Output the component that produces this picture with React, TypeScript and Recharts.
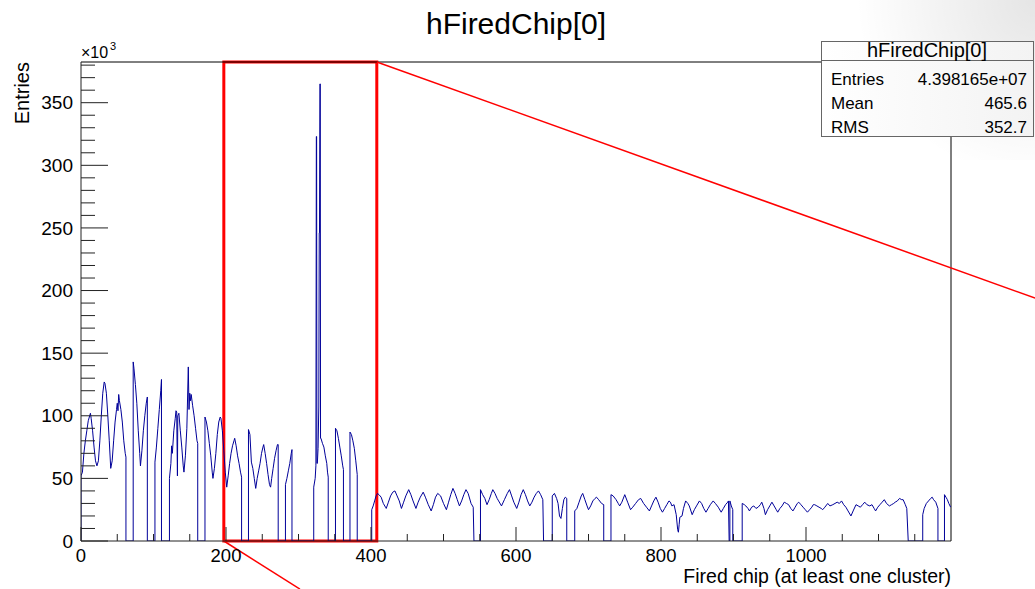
import React from "react";
import { LineChart, Line, XAxis, YAxis, ReferenceLine, ReferenceArea, Label } from "recharts";

// Histogram hFiredChip[0]: chip index (x) vs entries (in units of 10^3)
const HIST_X = [
  0, 0, 2, 4, 6, 8, 10, 12, 13, 14, 16, 18, 20, 22, 24, 26, 28, 30, 32, 33, 35, 37, 39, 41, 43, 45, 47, 49, 50, 51, 52, 53, 55, 57, 59, 61, 62, 62,
  72, 72, 73, 75, 77, 79, 81, 82, 84, 86, 88, 90, 91.5, 91.5,
  102, 102, 104, 106, 108, 110, 111, 111,
  122, 122, 124, 125, 126, 128, 130, 131, 132, 133, 133.5, 135, 137, 139, 141, 142, 144, 146, 148, 149, 150, 151, 152, 154, 156, 158, 160, 161, 161,
  171, 171, 173, 175, 177, 179, 181, 182, 184, 186, 188, 190, 192, 193, 195, 197, 199, 201, 203, 205, 207, 209, 211, 212, 214, 216, 218, 220, 221.5, 221.5,
  231, 231, 233, 235, 237, 239, 241, 243, 245, 247, 249, 251, 252, 254, 256, 258, 260, 261.5, 263, 265, 267, 269, 271, 272, 272,
  282, 282, 284, 286, 288, 290, 291, 291,
  321, 321, 323, 324, 324.6, 325, 325.4, 326, 327, 328, 328.6, 329, 329.6, 330, 330.4, 331, 333, 335, 337, 339, 340, 341, 341,
  351, 351, 353, 355, 357, 359, 361, 362, 362,
  371, 371, 373, 375, 377, 379, 381, 381,
  401, 401, 403, 405, 407, 409, 411, 414, 417, 420, 421, 424, 427, 430, 433, 436, 439, 442, 445, 448, 452, 455, 458, 462, 465, 468, 472, 475, 479, 483, 486, 489, 492, 494, 496, 500, 504, 507, 510, 513, 516, 519, 522, 525, 528, 531, 534, 538, 541, 542,
  551, 551, 554, 557, 560, 563, 566, 568, 571, 574, 576, 580, 584, 588, 591, 594, 597, 601, 604, 607, 610, 613, 616, 619, 622, 625, 628, 631, 634, 637, 638,
  650, 650, 653, 656, 658, 660, 662, 664, 666, 668, 670, 670,
  681, 681, 684, 687, 690, 692, 695, 698, 700, 703, 706, 709, 711, 714, 718, 721, 721,
  731, 731, 734, 738, 741, 743, 746, 750, 754, 758, 761, 765, 769, 772, 776, 780, 784, 787, 790, 793, 796, 799, 802, 805, 808, 811, 813, 815, 818, 821, 823, 824, 825, 826, 829, 831, 834, 837, 839, 843, 846, 849, 853, 856, 859, 862, 865, 868, 872, 875, 879, 883, 886, 889, 892, 893, 894,
  895, 895, 897, 899, 899,
  912, 912, 915, 917, 920, 922, 925, 928, 931, 934, 937, 939, 942, 944, 947, 950, 953, 956, 959, 961, 964, 967, 970, 973, 976, 979, 982, 985, 988, 990, 993, 996, 999, 1002, 1005, 1008, 1010, 1012, 1015, 1018, 1021, 1023, 1026, 1030, 1033, 1037, 1040, 1043, 1046, 1049, 1052, 1055, 1058, 1062, 1065, 1069, 1072, 1075, 1078, 1081, 1084, 1088, 1091, 1094, 1096, 1099, 1102, 1105, 1108, 1111, 1115, 1118, 1121, 1123, 1126, 1129, 1132, 1134, 1137, 1139, 1141,
  1161, 1161, 1163, 1166, 1169, 1172, 1174, 1176, 1179, 1182, 1182,
  1191, 1191, 1193, 1195, 1197, 1199.5,
];

const HIST_Y = [
  0, 52, 55, 70, 80, 88, 96, 100, 102, 98, 88, 75, 64, 60, 64, 80, 100, 118, 127, 126, 118, 100, 80, 58, 64, 80, 95, 105, 110, 104, 117, 112, 105, 95, 80, 70, 67, 0,
  0, 143, 138, 125, 110, 88, 70, 60, 72, 88, 100, 110, 115, 0,
  0, 63, 75, 90, 105, 120, 129, 0,
  0, 50, 62, 76, 70, 88, 98, 104, 103, 52, 100, 102, 88, 75, 60, 55, 68, 90, 139, 105, 118, 112, 117, 108, 100, 90, 80, 78, 0,
  0, 99, 95, 88, 78, 68, 55, 50, 58, 70, 85, 95, 99, 98, 88, 72, 55, 43, 52, 62, 70, 76, 80, 82, 76, 68, 62, 55, 51, 0,
  0, 89, 85, 63, 58, 50, 42, 50, 56, 62, 70, 75, 77, 70, 62, 53, 45, 43, 50, 58, 66, 72, 77, 77, 0,
  0, 45, 50, 56, 62, 70, 73, 0,
  0, 43, 50, 60, 323, 323, 62, 62, 74, 107, 246, 246, 365, 365, 82, 82, 78, 75, 68, 62, 55, 51, 0,
  0, 90, 88, 82, 75, 68, 60, 57, 0,
  0, 87, 85, 80, 74, 64, 53, 0,
  0, 25, 28, 32, 36, 38, 37, 35, 30, 27, 26, 31, 36, 39, 40, 36, 32, 26, 31, 36, 41, 37, 32, 26, 31, 35, 39, 35, 29, 24, 29, 35, 38, 37, 36, 30, 25, 31, 37, 42, 38, 33, 28, 32, 37, 41, 38, 30, 27, 0,
  0, 41, 37, 34, 29, 33, 38, 41, 38, 34, 32, 28, 33, 38, 41, 36, 31, 26, 31, 37, 41, 37, 32, 28, 31, 35, 38, 40, 37, 33, 0,
  0, 36, 38, 34, 30, 20, 18, 26, 33, 35, 34, 0,
  0, 24, 26, 31, 36, 38, 33, 28, 25, 28, 32, 34, 35, 33, 30, 29, 0,
  0, 37, 36, 33, 30, 28, 31, 37, 31, 25, 27, 30, 33, 34, 30, 27, 24, 28, 32, 35, 31, 26, 23, 26, 29, 32, 31, 28, 29, 21, 9, 7, 13, 19, 20, 26, 32, 30, 28, 21, 25, 28, 32, 30, 26, 23, 26, 29, 32, 30, 27, 23, 26, 29, 31, 32, 0,
  0, 32, 28, 25, 0,
  0, 30, 29, 28, 26, 24, 27, 28, 26, 27, 29, 31, 26, 21, 25, 28, 31, 28, 25, 23, 26, 28, 31, 30, 29, 26, 24, 27, 30, 31, 29, 27, 25, 23, 25, 27, 29, 29, 28, 27, 26, 25, 27, 30, 28, 29, 30, 31, 30, 32, 29, 27, 24, 20, 24, 29, 28, 27, 29, 31, 29, 28, 29, 26, 24, 27, 29, 31, 33, 30, 28, 29, 30, 31, 32, 34, 33, 33, 29, 26, 0,
  0, 21, 26, 30, 32, 34, 35, 33, 31, 26, 0,
  0, 37, 35, 33, 30, 27,
];

const X_TICKS = [0, 50, 100, 150, 200, 250, 300, 350, 400, 450, 500, 550, 600, 650, 700, 750, 800, 850, 900, 950, 1000, 1050, 1100, 1150];
const X_LABELS = [0, 200, 400, 600, 800, 1000];
const Y_TICKS = [0, 10, 20, 30, 40, 50, 60, 70, 80, 90, 100, 110, 120, 130, 140, 150, 160, 170, 180, 190, 200, 210, 220, 230, 240, 250, 260, 270, 280, 290, 300, 310, 320, 330, 340, 350, 360, 370, 380];
const Y_LABELS = [0, 50, 100, 150, 200, 250, 300, 350];

const X_DOMAIN = [0, 1200];
const Y_DOMAIN = [0, 382.5];

// zoom box annotation (data coordinates)
const ZOOM_X1 = 197;
const ZOOM_X2 = 408;
const ZOOM_LINE_UPPER = [{ x: 408, y: 382.5 }, { x: 1316, y: 194 }];
const ZOOM_LINE_LOWER = [{ x: 197, y: 0 }, { x: 302, y: -38.4 }];

const TITLE = "hFiredChip[0]";
const STATS = [
  ["Entries", "4.398165e+07"],
  ["Mean", "465.6"],
  ["RMS", "352.7"],
];

const data = HIST_X.map((x, i) => ({ x, y: HIST_Y[i] }));

const FONT = "'Liberation Sans', Arial, Helvetica, sans-serif";

function YTick(props: any) {
  const { x, y, payload } = props;
  const v = payload.value;
  const major = Y_LABELS.includes(v);
  return (
    <g>
      <line x1={x} x2={x + (major ? 27 : 14)} y1={y} y2={y} stroke="#222" strokeWidth={1} />
      {major && (
        <text x={x - 8} y={y + 6.7} textAnchor="end" fontSize={19} fontFamily={FONT} fill="#000">
          {v}
        </text>
      )}
    </g>
  );
}

function XTick(props: any) {
  const { x, y, payload } = props;
  const v = payload.value;
  const major = X_LABELS.includes(v);
  return (
    <g>
      <line x1={x} x2={x} y1={y} y2={y - (major ? 14 : 7)} stroke="#222" strokeWidth={1} />
      {major && (
        <text x={x} y={y + 21} textAnchor="middle" fontSize={18.5} fontFamily={FONT} fill="#000">
          {v}
        </text>
      )}
    </g>
  );
}

export default function App() {
  return (
    <div style={{ position: "absolute", left: 0, top: 0, width: 1035, height: 589, background: "#fff", overflow: "hidden" }}>
      <div
        style={{
          position: "absolute",
          right: 0,
          top: 0,
          width: 200,
          height: 160,
          background: "radial-gradient(circle at 100% 0%, rgba(0,0,0,0.10), rgba(0,0,0,0) 70%)",
        }}
      />
      <div style={{ position: "absolute", left: 0, top: 0 }}>
        <LineChart width={1035} height={589} data={data} margin={{ top: 62, right: 84, bottom: 0, left: 0 }}>
          <XAxis
            dataKey="x"
            type="number"
            domain={X_DOMAIN}
            ticks={X_TICKS}
            interval={0}
            height={48}
            tickSize={0}
            tickMargin={0}
            tickLine={false}
            axisLine={{ stroke: "#222", strokeWidth: 1 }}
            tick={<XTick />}
            allowDataOverflow
          >
            <Label
              content={() => (
                <text x={951} y={583} textAnchor="end" fontSize={19.5} fontFamily={FONT} fill="#000">
                  Fired chip (at least one cluster)
                </text>
              )}
            />
          </XAxis>
          <YAxis
            type="number"
            domain={Y_DOMAIN}
            ticks={Y_TICKS}
            interval={0}
            width={81}
            tickSize={0}
            tickMargin={0}
            tickLine={false}
            axisLine={{ stroke: "#222", strokeWidth: 1 }}
            tick={<YTick />}
            allowDataOverflow
          >
            <Label
              content={() => (
                <text transform="translate(29,62) rotate(-90)" textAnchor="end" fontSize={20} fontFamily={FONT} fill="#000">
                  Entries
                </text>
              )}
            />
          </YAxis>
          <ReferenceLine y={382.5} stroke="#000" strokeWidth={1} />
          <ReferenceLine x={1200} stroke="#000" strokeWidth={1} />
          <Line
            dataKey="y"
            type="linear"
            stroke="#000099"
            strokeWidth={1}
            dot={false}
            activeDot={false}
            isAnimationActive={false}
          />
          <ReferenceArea
            x1={ZOOM_X1}
            x2={ZOOM_X2}
            y1={0}
            y2={382.5}
            fill="none"
            fillOpacity={0}
            stroke="#ff0000"
            strokeOpacity={1}
            strokeWidth={3}
          />
          <ReferenceLine segment={ZOOM_LINE_UPPER} stroke="#ff0000" strokeOpacity={1} strokeWidth={1.5} ifOverflow="visible" />
          <ReferenceLine segment={ZOOM_LINE_LOWER} stroke="#ff0000" strokeOpacity={1} strokeWidth={1.5} ifOverflow="visible" />
        </LineChart>
      </div>
      <svg width={1035} height={589} style={{ position: "absolute", left: 0, top: 0, pointerEvents: "none" }}>
        <text x={516} y={34} textAnchor="middle" fontSize={30} fontFamily={FONT} fill="#000">
          {TITLE}
        </text>
        <text x={81} y={58} fontSize={16} fontFamily={FONT} fill="#000">
          ×10
        </text>
        <text x={110} y={50} fontSize={11} fontFamily={FONT} fill="#000">
          3
        </text>
        <defs>
          <linearGradient id="statsBg" x1="0" y1="0" x2="1" y2="0">
            <stop offset="0%" stopColor="#ffffff" />
            <stop offset="100%" stopColor="#f3f3f3" />
          </linearGradient>
        </defs>
        <rect x={821.5} y={41.5} width={212} height={95} fill="url(#statsBg)" stroke="#666" strokeWidth={1} />
        <line x1={821.5} x2={1033.5} y1={60.5} y2={60.5} stroke="#666" strokeWidth={1} />
        <text x={927} y={57} textAnchor="middle" fontSize={20} fontFamily={FONT} fill="#000">
          {TITLE}
        </text>
        {STATS.map(([k, v], i) => (
          <g key={k}>
            <text x={831} y={85 + i * 24} fontSize={17} fontFamily={FONT} fill="#000">
              {k}
            </text>
            <text x={1027} y={85 + i * 24} textAnchor="end" fontSize={17} fontFamily={FONT} fill="#000">
              {v}
            </text>
          </g>
        ))}
      </svg>
    </div>
  );
}
